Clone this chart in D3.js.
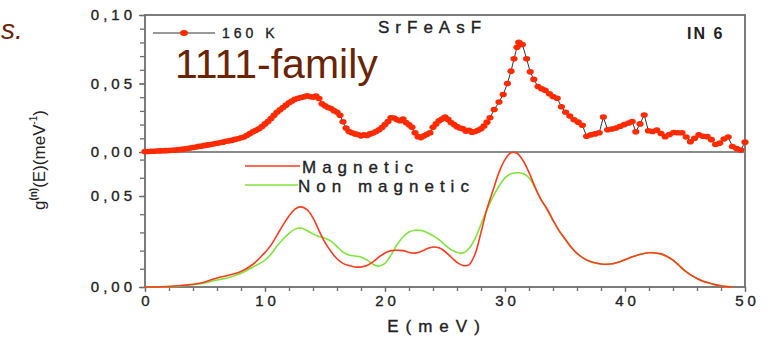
<!DOCTYPE html>
<html>
<head>
<meta charset="utf-8">
<script src="https://cdn.jsdelivr.net/npm/d3@7"></script>
<style>
  body { margin: 0; background: #fff; }
  svg { display: block; font-family: "Liberation Sans", Arial, sans-serif; }
  .lbl { fill: #222; stroke: #222; stroke-width: 0.35px; }
</style>
</head>
<body>
<script>
'use strict';

// measured points, 160 K  [E (meV), g(E)]
const points160K = [
  [0.00, .0003], [0.25, .0004], [0.50, .0005], [0.75, .0006], [1.00, .0007], [1.25, .0008],
  [1.50, .0009], [1.75, .0010], [2.00, .0011], [2.25, .0013], [2.50, .0014], [2.75, .0016],
  [3.00, .0019], [3.25, .0021], [3.50, .0025], [3.75, .0029], [4.00, .0033], [4.25, .0036],
  [4.50, .0041], [4.75, .0043], [5.00, .0048], [5.25, .0052], [5.50, .0055], [5.75, .0060],
  [6.00, .0064], [6.25, .0067], [6.50, .0072], [6.75, .0078], [7.00, .0081], [7.25, .0085],
  [7.50, .0092], [7.75, .0097], [8.00, .0104], [8.25, .0110], [8.50, .0122], [8.75, .0135],
  [9.00, .0148], [9.25, .0158], [9.50, .0170], [9.75, .0186], [10.00, .0205], [10.25, .0222],
  [10.50, .0245], [10.75, .0268], [11.00, .0290], [11.25, .0308], [11.50, .0325], [11.75, .0342],
  [12.00, .0360], [12.25, .0372], [12.50, .0385], [12.75, .0392], [13.00, .0398], [13.25, .0403],
  [13.50, .0410], [13.75, .0405], [14.00, .0400], [14.25, .0408], [14.50, .0390], [14.75, .0352],
  [15.00, .0338], [15.25, .0325], [15.50, .0318], [15.75, .0302], [16.00, .0290], [16.25, .0268],
  [16.50, .0220], [16.75, .0175], [17.00, .0150], [17.25, .0140], [17.50, .0132], [17.75, .0128],
  [18.00, .0118], [18.25, .0125], [18.50, .0120], [18.75, .0132], [19.00, .0138], [19.25, .0150],
  [19.50, .0162], [19.75, .0178], [20.00, .0200], [20.25, .0222], [20.50, .0250], [20.75, .0248],
  [21.00, .0235], [21.25, .0228], [21.50, .0240], [21.75, .0215], [22.00, .0198], [22.25, .0180],
  [22.50, .0140], [22.75, .0112], [23.00, .0105], [23.25, .0118], [23.50, .0130], [23.75, .0140],
  [24.00, .0180], [24.25, .0205], [24.50, .0228], [24.75, .0240], [25.00, .0255], [25.25, .0238],
  [25.50, .0215], [25.75, .0200], [26.00, .0185], [26.25, .0175], [26.50, .0170], [26.75, .0152],
  [27.00, .0158], [27.25, .0145], [27.50, .0150], [27.75, .0158], [28.00, .0170], [28.25, .0190],
  [28.50, .0218], [28.75, .0250], [29.10, .0310], [29.50, .0365], [29.85, .0420], [30.20, .0500],
  [30.50, .0590], [30.75, .0680], [31.00, .0765], [31.15, .0800], [31.45, .0785], [31.80, .0680],
  [32.10, .0585], [32.40, .0530], [32.75, .0478], [33.05, .0462], [33.35, .0450], [33.70, .0425],
  [34.00, .0405], [34.35, .0392], [34.70, .0330], [35.05, .0290], [35.40, .0262], [35.75, .0235],
  [36.10, .0218], [36.45, .0195], [36.80, .0115], [37.15, .0125], [37.50, .0132], [37.85, .0140],
  [38.20, .0255], [38.55, .0162], [38.90, .0168], [39.25, .0175], [39.60, .0188], [39.95, .0200],
  [40.30, .0212], [40.60, .0222], [40.90, .0148], [41.25, .0205], [41.60, .0270], [41.95, .0155],
  [42.30, .0150], [42.65, .0160], [43.00, .0135], [43.35, .0112], [43.70, .0128], [44.05, .0142],
  [44.40, .0140], [44.75, .0140], [45.10, .0110], [45.45, .0075], [45.80, .0100], [46.15, .0125],
  [46.50, .0115], [46.85, .0112], [47.20, .0090], [47.55, .0055], [47.90, .0065], [48.25, .0095],
  [48.60, .0110], [48.95, .0040], [49.30, .0025], [49.65, .0015], [50.00, .0072]
]

// calculated curves
const curveE = [
  0, 1, 2, 3, 4, 5, 6, 7, 8, 9, 10,
  10.5, 11, 11.5, 12, 12.5, 13, 13.5, 14, 14.5, 15, 15.5, 16, 16.5, 17, 17.5, 18, 18.5, 19, 19.5, 20,
  20.5, 21, 21.5, 22, 22.5, 23, 23.5, 24, 24.5, 25, 25.5, 26, 26.5, 27, 27.5, 28, 28.5, 29, 29.5, 30,
  30.5, 31, 31.5, 32, 32.5, 33, 33.5, 34, 34.5, 35, 35.5, 36, 36.5, 37, 37.5, 38, 38.5, 39, 39.5, 40,
  40.5, 41, 41.5, 42, 42.5, 43, 43.5, 44, 44.5, 45, 45.5, 46, 46.5, 47, 47.5, 48, 48.5, 49
]
const gMagnetic = [
  0, 0, .0003, .0008, .0015, .0028, .005, .0065, .0085, .0125, .019,
  .023, .0285, .034, .039, .0428, .044, .0425, .038, .031, .0245, .0195, .0155, .013, .0118, .011, .011, .0118, .0138, .0165, .0187,
  .020, .0202, .0200, .019, .0186, .0195, .021, .022, .0215, .0195, .0165, .0135, .0118, .0122, .018, .030, .043, .053, .063, .070,
  .0738, .0735, .0695, .063, .055, .048, .043, .0368, .031, .0265, .022, .0185, .016, .0143, .0133, .0126, .0125, .0128, .0137, .015,
  .0163, .0175, .0183, .0188, .0187, .0182, .0168, .0148, .0118, .0088, .0065, .0047, .0032, .0022, .0013, .0006, .0002, 0
]
const gNonMagnetic = [
  0, 0, .0002, .0006, .0012, .0022, .0038, .0052, .0075, .011, .0148,
  .018, .0225, .0262, .0295, .0318, .0324, .031, .0292, .0278, .0268, .0252, .0222, .0192, .0176, .017, .0165, .0148, .0125, .0115, .013,
  .0175, .0232, .0275, .0302, .0312, .031, .030, .0282, .026, .0232, .0205, .019, .0187, .0212, .0265, .0345, .0425, .0495, .0555, .060,
  .0622, .0628, .0624, .060, .0545, .048, .0425, .0365, .031, .0262, .022, .0185, .016, .0142, .0132, .0126, .0125, .0128, .0137, .015,
  .0163, .0175, .0183, .0188, .0188, .0182, .0168, .0148, .012, .009, .0066, .0047, .0032, .0022, .0013, .0006, .0002, 0
]

const xTicks = [0, 10, 20, 30, 40, 50]
const xMinorTicks = d3.range(0, 50.1, 2)
const yTopTicks = [0, 0.05, 0.10]
const yBottomTicks = [0, 0.05]
const yMinorTicks = d3.range(0, 0.101, 0.01)

const m = {
  width: 769,
  height: 337,
  left: 145,
  right: 745,
  top: 15,
  mid: 152,
  bottom: 287
}

const frameColor = '#6e6e6e'
const brown = '#6a2404'

let svg = d3.select('body')
  .append('svg')
  .attr('width', m.width)
  .attr('height', m.height)

let x = d3.scaleLinear().domain([0, 50]).range([m.left, m.right])
let yTop = d3.scaleLinear().domain([0, 0.10]).range([m.mid, m.top])
let yBottom = d3.scaleLinear().domain([0, 0.05]).range([m.bottom, 196])

let comma = (d) => d3.format('.2f')(d).replace('.', ',')

function styleAxis(g) {
  g.select('.domain').remove()
  g.selectAll('line').attr('stroke', frameColor).attr('stroke-width', 1.3)
  g.selectAll('text')
    .attr('class', 'lbl')
    .style('font-size', '15px')
    .style('letter-spacing', '4px')
}

// minor ticks
svg.append('g')
  .attr('transform', 'translate(' + m.left + ',0)')
  .call(d3.axisLeft(yTop).tickValues(yMinorTicks).tickSize(5).tickFormat(''))
  .call(styleAxis)
svg.append('g')
  .attr('transform', 'translate(' + m.left + ',0)')
  .call(d3.axisLeft(yBottom).tickValues(d3.range(0, 0.075, 0.01)).tickSize(5).tickFormat(''))
  .call(styleAxis)

// labelled ticks
svg.append('g')
  .attr('transform', 'translate(' + m.left + ',0)')
  .call(d3.axisLeft(yTop).tickValues(yTopTicks).tickSize(6).tickPadding(3).tickFormat(comma))
  .call(styleAxis)
svg.append('g')
  .attr('transform', 'translate(' + m.left + ',0)')
  .call(d3.axisLeft(yBottom).tickValues(yBottomTicks).tickSize(6).tickPadding(3).tickFormat(comma))
  .call(styleAxis)

svg.append('g')
  .attr('transform', 'translate(0,' + m.bottom + ')')
  .call(d3.axisBottom(x).tickValues(xMinorTicks).tickSize(4).tickFormat(''))
  .call(styleAxis)
svg.append('g')
  .attr('transform', 'translate(0,' + m.bottom + ')')
  .call(d3.axisBottom(x).tickValues(xTicks).tickSize(5).tickPadding(3).tickFormat(d3.format('d')))
  .call(styleAxis)
  .selectAll('text').attr('dx', '2px')

// frame and panel divider
svg.append('rect')
  .attr('x', m.left)
  .attr('y', m.top)
  .attr('width', m.right - m.left)
  .attr('height', m.bottom - m.top)
  .attr('fill', 'none')
  .attr('stroke', frameColor)
  .attr('stroke-width', 1.8)
svg.append('line')
  .attr('x1', m.left).attr('x2', m.right)
  .attr('y1', yTop(0)).attr('y2', yTop(0))
  .attr('stroke', '#8a8a8a')
  .attr('stroke-width', 1.8)

// bottom panel curves
let curveData = curveE.map((e, i) => ({ e: e, mag: gMagnetic[i], non: gNonMagnetic[i] }))

svg.append('path')
  .datum(curveData)
  .attr('fill', 'none')
  .attr('stroke', '#7ee63a')
  .attr('stroke-width', 1.6)
  .attr('d', d3.line().curve(d3.curveCatmullRom).x((d) => x(d.e)).y((d) => yBottom(d.non)))

svg.append('path')
  .datum(curveData)
  .attr('fill', 'none')
  .attr('stroke', '#ff3a1c')
  .attr('stroke-width', 1.6)
  .attr('d', d3.line().curve(d3.curveCatmullRom).x((d) => x(d.e)).y((d) => yBottom(d.mag)))

// top panel data
svg.append('path')
  .datum(points160K)
  .attr('fill', 'none')
  .attr('stroke', '#333')
  .attr('stroke-width', 1)
  .attr('d', d3.line().x((d) => x(d[0])).y((d) => yTop(d[1])))

svg.append('g')
  .selectAll('ellipse')
  .data(points160K)
  .enter()
  .append('ellipse')
    .attr('cx', (d) => x(d[0]))
    .attr('cy', (d) => yTop(d[1]))
    .attr('rx', 3.6)
    .attr('ry', 2.8)
    .attr('fill', '#ff2a00')

// legends
svg.append('line')
  .attr('x1', 153).attr('x2', 215)
  .attr('y1', 33).attr('y2', 33)
  .attr('stroke', '#333')
  .attr('stroke-width', 1)
svg.append('ellipse')
  .attr('cx', 184).attr('cy', 33)
  .attr('rx', 4).attr('ry', 3)
  .attr('fill', '#ff2a00')
svg.append('text')
  .attr('class', 'lbl')
  .attr('x', 222).attr('y', 38)
  .style('font-size', '14px')
  .style('letter-spacing', '4px')
  .text('160 K')

svg.append('line')
  .attr('x1', 245).attr('x2', 300)
  .attr('y1', 166).attr('y2', 166)
  .attr('stroke', '#ff3a1c')
  .attr('stroke-width', 1.6)
svg.append('text')
  .attr('class', 'lbl')
  .attr('x', 302).attr('y', 173)
  .style('font-size', '17px')
  .style('letter-spacing', '6px')
  .text('Magnetic')

svg.append('line')
  .attr('x1', 245).attr('x2', 298)
  .attr('y1', 185).attr('y2', 185)
  .attr('stroke', '#7ee63a')
  .attr('stroke-width', 1.6)
svg.append('text')
  .attr('class', 'lbl')
  .attr('x', 298).attr('y', 192)
  .style('font-size', '17px')
  .style('letter-spacing', '6px')
  .text('Non magnetic')

// titles
svg.append('text')
  .attr('class', 'lbl')
  .attr('x', 378).attr('y', 33)
  .style('font-size', '17px')
  .style('letter-spacing', '6px')
  .text('SrFeAsF')

svg.append('text')
  .attr('x', 687).attr('y', 39)
  .style('font-size', '16px')
  .style('font-weight', 'bold')
  .style('letter-spacing', '2px')
  .attr('fill', '#222')
  .text('IN 6')

svg.append('text')
  .attr('x', 175).attr('y', 78)
  .style('font-size', '41px')
  .attr('fill', brown)
  .text('1111-family')

svg.append('text')
  .attr('x', 1).attr('y', 39)
  .style('font-size', '28px')
  .style('font-style', 'italic')
  .attr('fill', brown)
  .text('s.')

svg.append('text')
  .attr('class', 'lbl')
  .attr('x', 437).attr('y', 332)
  .attr('text-anchor', 'middle')
  .style('font-size', '17px')
  .style('letter-spacing', '7px')
  .text('E(meV)')

// y axis title
let yTitle = svg.append('text')
  .attr('transform', 'translate(45,160)rotate(-90)')
  .attr('text-anchor', 'middle')
  .style('font-size', '17px')
  .attr('fill', '#222')
yTitle.append('tspan').text('g')
yTitle.append('tspan').attr('dy', -8).style('font-size', '10px').style('font-weight', 'bold').text('(n)')
yTitle.append('tspan').attr('dy', 8).text('(E)(meV')
yTitle.append('tspan').attr('dy', -8).style('font-size', '10px').text('-1')
yTitle.append('tspan').attr('dy', 8).text(')')
</script>
</body>
</html>
